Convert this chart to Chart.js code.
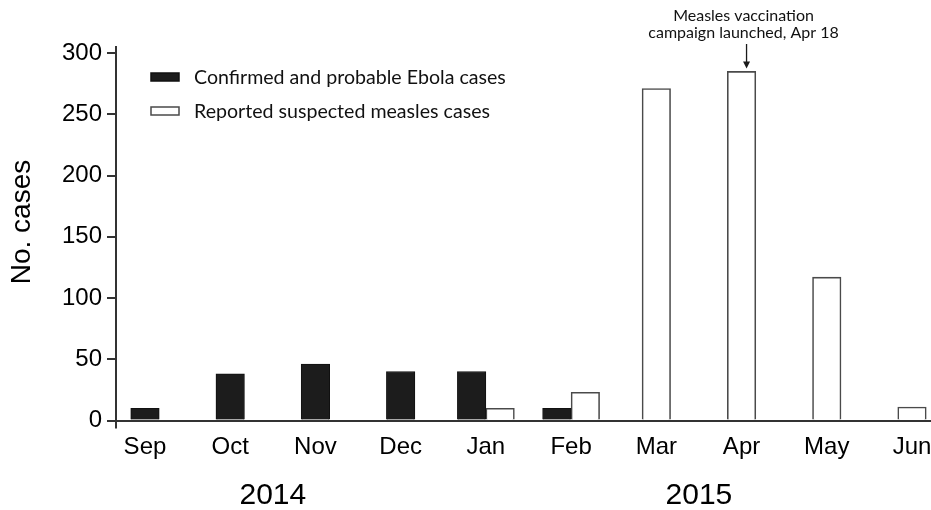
<!DOCTYPE html>
<html>
<head>
<meta charset="utf-8">
<script src="https://cdn.jsdelivr.net/npm/chart.js@4"></script>
<style>
  html, body { margin: 0; padding: 0; background: #fff; }
  #wrap { width: 931px; height: 510px; position: relative; }
</style>
</head>
<body>
<div id="wrap"><canvas id="c"></canvas></div>
<script>
const months = ['Sep', 'Oct', 'Nov', 'Dec', 'Jan', 'Feb', 'Mar', 'Apr', 'May', 'Jun'];
const ebolaCases = [10, 38, 46, 40, 40, 10, null, null, null, null];
const measlesCases = [null, null, null, null, 10, 23, 271, 285, 117, 11];
const yTickValues = [0, 50, 100, 150, 200, 250, 300];
const yearGroups = [
  { label: '2014', first: 0, last: 3 },
  { label: '2015', first: 4, last: 9 }
];
const seriesLabels = ['Confirmed and probable Ebola cases', 'Reported suspected measles cases'];
const annotationMonth = 'Apr';
const annotationLines = ['Measles vaccination', 'campaign launched, Apr 18'];
const yTitle = 'No. cases';

const AXIS = '#333333';

const overlayPlugin = {
  id: 'overlay',
  afterDraw(chart) {
    const ctx = chart.ctx;
    const xs = chart.scales.x, ys = chart.scales.y;
    const area = chart.chartArea;
    ctx.save();
    // y axis line (extends slightly beyond the plot)
    ctx.strokeStyle = AXIS;
    ctx.lineWidth = 2;
    ctx.beginPath();
    ctx.moveTo(area.left, area.top - 7);
    ctx.lineTo(area.left, area.bottom + 8);
    ctx.stroke();

    // y title
    ctx.fillStyle = '#000';
    ctx.font = '28px "Liberation Sans", Arial, sans-serif';
    ctx.textAlign = 'center';
    ctx.textBaseline = 'middle';
    ctx.translate(22, 222);
    ctx.rotate(-Math.PI / 2);
    ctx.fillText(yTitle, 0, 0);
    ctx.setTransform(1, 0, 0, 1, 0, 0);

    // year labels
    ctx.font = '30px "Liberation Sans", Arial, sans-serif';
    ctx.textAlign = 'center';
    ctx.textBaseline = 'middle';
    yearGroups.forEach(g => {
      const cx = xs.getPixelForValue((g.first + g.last) / 2);
      ctx.fillText(g.label, cx, 496);
    });

    // legend
    const ds = chart.data.datasets;
    const legendY = [77, 111];
    ctx.font = '19.6px Lato, "Open Sans", sans-serif';
    ctx.textAlign = 'left';
    ctx.textBaseline = 'middle';
    ds.forEach((d, i) => {
      const y = legendY[i];
      ctx.fillStyle = d.backgroundColor;
      ctx.fillRect(151, y - 4, 28, 8);
      ctx.strokeStyle = d.borderColor;
      ctx.lineWidth = 1.5;
      ctx.strokeRect(151, y - 4, 28, 8);
      ctx.fillStyle = '#111';
      ctx.fillText(d.label, 194, y + 1);
    });

    // annotation
    const ai = months.indexOf(annotationMonth);
    const ax = xs.getPixelForValue(ai) + 5;
    const topVal = measlesCases[ai];
    const barTop = ys.getPixelForValue(topVal);
    ctx.font = '16px Lato, "Open Sans", sans-serif';
    ctx.textAlign = 'center';
    ctx.fillStyle = '#111';
    ctx.fillText(annotationLines[0], ax - 3, 16);
    ctx.fillText(annotationLines[1], ax - 3, 33);
    ctx.strokeStyle = '#1a1a1a';
    ctx.lineWidth = 1.3;
    ctx.beginPath();
    ctx.moveTo(ax, 44);
    ctx.lineTo(ax, barTop - 8);
    ctx.stroke();
    ctx.beginPath();
    ctx.moveTo(ax - 3.5, barTop - 10);
    ctx.lineTo(ax + 3.5, barTop - 10);
    ctx.lineTo(ax, barTop - 3);
    ctx.closePath();
    ctx.fillStyle = '#1a1a1a';
    ctx.fill();
    ctx.restore();
  }
};

const toPoints = arr => arr.map((v, i) => ({ x: i, y: v }));

new Chart(document.getElementById('c'), {
  type: 'bar',
  data: {
    datasets: [
      {
        label: seriesLabels[0],
        data: toPoints(ebolaCases),
        backgroundColor: '#1c1c1c',
        borderColor: '#111111',
        borderWidth: 1,
        barThickness: 28.5,
        skipNull: true
      },
      {
        label: seriesLabels[1],
        data: toPoints(measlesCases),
        backgroundColor: '#ffffff',
        borderColor: '#4a4a4a',
        borderWidth: 1.6,
        barThickness: 28.5,
        skipNull: true
      }
    ]
  },
  options: {
    responsive: true,
    maintainAspectRatio: false,
    animation: false,
    layout: { padding: { top: 53, left: 0, right: 0, bottom: 0 } },
    plugins: { legend: { display: false }, tooltip: { enabled: false } },
    scales: {
      x: {
        type: 'linear',
        min: -0.34,
        max: 9.223,
        offset: false,
        grid: { display: false, drawTicks: false },
        border: { display: true, color: AXIS, width: 2 },
        afterBuildTicks: s => { s.ticks = months.map((m, i) => ({ value: i })); },
        afterFit: s => { s.height = 89.5; s.paddingLeft = 0; s.paddingRight = 0; },
        ticks: {
          autoSkip: false,
          maxRotation: 0,
          minRotation: 0,
          padding: 12,
          color: '#000',
          font: { family: '"Liberation Sans", Arial, sans-serif', size: 24 },
          callback: v => months[v] ?? ''
        }
      },
      y: {
        min: 0,
        max: 300,
        afterBuildTicks: s => { s.ticks = yTickValues.map(v => ({ value: v })); },
        afterFit: s => { s.width = 116; s.paddingTop = 0; s.paddingBottom = 0; },
        grid: { drawOnChartArea: false, drawTicks: true, tickLength: 9, color: AXIS, lineWidth: 2 },
        border: { display: false },
        ticks: {
          padding: 5,
          color: '#000',
          font: { family: '"Liberation Sans", Arial, sans-serif', size: 24 }
        }
      }
    }
  },
  plugins: [overlayPlugin]
});
</script>
</body>
</html>
